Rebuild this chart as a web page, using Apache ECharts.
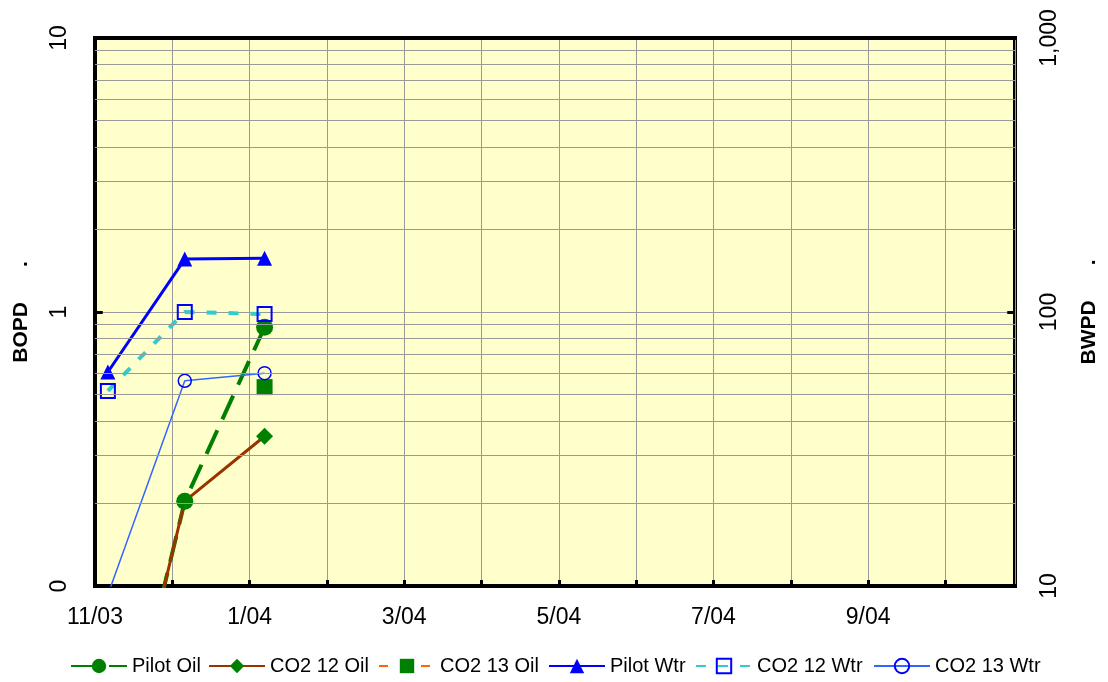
<!DOCTYPE html>
<html>
<head>
<meta charset="utf-8">
<script src="https://cdn.jsdelivr.net/npm/echarts@6/dist/echarts.min.js"></script>
<style>
html,body{margin:0;padding:0;background:#fff;}
#chart{width:1108px;height:682px;}
</style>
</head>
<body>
<div id="chart"></div>
<script>
// ---- data ----
var dates = ['2003-11-06', '2003-12-06', '2004-01-07'];
var pilotOil  = [0.014, 0.204, 0.88];
var co2_12Oil = [0.014, 0.204, 0.352];
var co2_13Oil = [null, null, 0.532];
var pilotWtr  = [60.4, 156, 157];
var co2_12Wtr = [51.5, 100, 98.3];
var co2_13Wtr = [9.3, 56.1, 59.8];

var xTickLabels = ['11/03', '', '1/04', '', '3/04', '', '5/04', '', '7/04', '', '9/04', ''];
var leftTickLabels = {'0.1': '0', '1': '1', '10': '10'};
var rightTickLabels = {'10': '10', '100': '100', '1000': '1,000'};
var minorGridLeft = [0.2, 0.3, 0.4, 0.5, 0.6, 0.7, 0.8, 0.9, 2, 3, 4, 5, 6, 7, 8, 9];
var xMin = 0, xMax = 11.9;

// month offset from 2003-11-01 (axis unit = month)
function monthPos(s) {
  var p = s.split('-').map(Number);
  var dim = new Date(p[0], p[1], 0).getDate();
  return (p[0] - 2003) * 12 + (p[1] - 11) + (p[2] - 1) / dim;
}
var xs = dates.map(monthPos);
function pairs(vals) { return vals.map(function (v, i) { return [xs[i], v]; }); }

var FONT = "'Liberation Sans', Arial, sans-serif";
var chart = echarts.init(document.getElementById('chart'), null, {renderer: 'canvas'});

var legendLefts = [65, 203, 373, 543, 690, 868];
var names = ['Pilot Oil', 'CO2 12 Oil', 'CO2 13 Oil', 'Pilot Wtr', 'CO2 12 Wtr', 'CO2 13 Wtr'];
var legends = names.map(function (n, i) {
  return {
    data: [n], left: legendLefts[i], top: 651, itemWidth: 56, itemHeight: 18,
    textStyle: {fontFamily: FONT, fontSize: 20, color: '#000'}
  };
});

var frameLine = {show: true, lineStyle: {color: '#000', width: 4, cap: 'square'}};
var tickLen = 0.1; // inner y-axis tick length in months

var option = {
  backgroundColor: '#fff',
  animation: false,
  legend: legends,
  grid: {
    left: 95, top: 38, right: 90, bottom: 96, show: true,
    backgroundColor: '#FFFFCC', borderColor: '#000', borderWidth: 4
  },
  xAxis: [{
    type: 'value', min: xMin, max: xMax, interval: 1, position: 'bottom',
    axisLine: frameLine,
    axisTick: {show: true, inside: true, length: 6, lineStyle: {color: '#000', width: 3}},
    splitLine: {show: true, lineStyle: {color: '#999', width: 1}},
    axisLabel: {
      fontFamily: FONT, fontSize: 23, color: '#000', margin: 20,
      showMaxLabel: false,
      formatter: function (v) {
        var k = Math.round(v);
        return Math.abs(v - k) < 1e-6 ? (xTickLabels[k] || '') : '';
      }
    }
  }, {
    type: 'value', min: xMin, max: xMax, position: 'top',
    axisLine: frameLine, axisTick: {show: false}, axisLabel: {show: false}, splitLine: {show: false}
  }],
  yAxis: [{
    type: 'log', logBase: 10, min: 0.1, max: 10, position: 'left',
    name: 'BOPD      .', nameLocation: 'middle', nameRotate: 90, nameGap: 63,
    nameTextStyle: {fontFamily: FONT, fontSize: 21, fontWeight: 'bold', color: '#000'},
    axisLine: frameLine,
    axisTick: {show: false},
    splitLine: {show: true, lineStyle: {color: '#999', width: 1}},
    axisLabel: {
      fontFamily: FONT, fontSize: 23, color: '#000', rotate: 90, margin: 24,
      align: 'center', verticalAlign: 'bottom',
      formatter: function (v) { return leftTickLabels[String(+v.toPrecision(6))] || ''; }
    }
  }, {
    type: 'log', logBase: 10, min: 10, max: 1000, position: 'right',
    name: 'BWPD      .', nameLocation: 'middle', nameRotate: 90, nameGap: 64,
    nameTextStyle: {fontFamily: FONT, fontSize: 21, fontWeight: 'bold', color: '#000'},
    axisLine: frameLine,
    axisTick: {show: false},
    splitLine: {show: false},
    axisLabel: {
      fontFamily: FONT, fontSize: 23, color: '#000', rotate: 90, margin: 23,
      align: 'center', verticalAlign: 'top',
      formatter: function (v) { return rightTickLabels[String(+v.toPrecision(6))] || ''; }
    }
  }],
  series: [
    {
      name: 'minor-grid', type: 'line', data: [], yAxisIndex: 0, z: 1, silent: true,
      markLine: {
        silent: true, symbol: ['none', 'none'], animation: false,
        label: {show: false},
        lineStyle: {color: '#999', width: 1, type: 'solid'},
        data: minorGridLeft.map(function (v) { return {yAxis: v}; })
      }
    },
    {
      name: 'left-tick', type: 'line', data: [], yAxisIndex: 0, z: 5, silent: true,
      markLine: {
        silent: true, symbol: ['none', 'none'], animation: false, label: {show: false},
        lineStyle: {color: '#000', width: 3, type: 'solid'},
        data: [[{coord: [xMin, 1]}, {coord: [xMin + tickLen, 1]}]]
      }
    },
    {
      name: 'right-tick', type: 'line', data: [], yAxisIndex: 1, z: 5, silent: true,
      markLine: {
        silent: true, symbol: ['none', 'none'], animation: false, label: {show: false},
        lineStyle: {color: '#000', width: 3, type: 'solid'},
        data: [[{coord: [xMax - tickLen, 100]}, {coord: [xMax, 100]}]]
      }
    },
    {
      name: 'Pilot Oil', type: 'line', yAxisIndex: 0, z: 3, data: pairs(pilotOil),
      symbol: 'circle', symbolSize: 17,
      lineStyle: {color: '#008000', width: 4, type: [26, 12]},
      itemStyle: {color: '#008000'}
    },
    {
      name: 'CO2 12 Oil', type: 'line', yAxisIndex: 0, z: 3, data: pairs(co2_12Oil),
      symbol: 'diamond', symbolSize: 17,
      lineStyle: {color: '#993300', width: 3},
      itemStyle: {color: '#008000'}
    },
    {
      name: 'CO2 13 Oil', type: 'line', yAxisIndex: 0, z: 3, data: pairs(co2_13Oil),
      symbol: 'rect', symbolSize: 16,
      lineStyle: {color: '#FF6600', width: 4, type: [9, 12]},
      itemStyle: {color: '#008000'}
    },
    {
      name: 'Pilot Wtr', type: 'line', yAxisIndex: 1, z: 3, data: pairs(pilotWtr),
      symbol: 'triangle', symbolSize: 15,
      lineStyle: {color: '#0000FF', width: 3},
      itemStyle: {color: '#0000FF'}
    },
    {
      name: 'CO2 12 Wtr', type: 'line', yAxisIndex: 1, z: 3, data: pairs(co2_12Wtr),
      symbol: 'rect', symbolSize: 14,
      lineStyle: {color: '#33CCCC', width: 4, type: [10, 12]},
      itemStyle: {color: 'rgba(0,0,0,0)', borderColor: '#0000FF', borderWidth: 2}
    },
    {
      name: 'CO2 13 Wtr', type: 'line', yAxisIndex: 1, z: 3, data: pairs(co2_13Wtr),
      symbol: 'circle', symbolSize: 13,
      lineStyle: {color: '#3366FF', width: 1.5},
      itemStyle: {color: 'rgba(0,0,0,0)', borderColor: '#0000FF', borderWidth: 1.5}
    }
  ]
};
chart.setOption(option);
</script>
</body>
</html>
